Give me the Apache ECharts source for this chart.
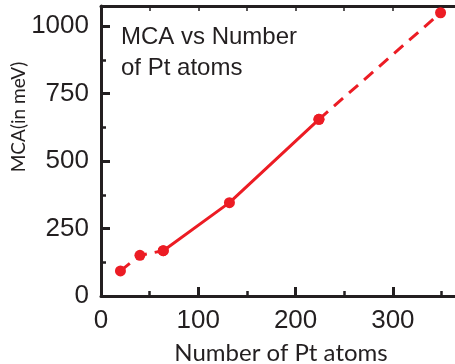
<!DOCTYPE html>
<html>
<head>
<meta charset="utf-8">
<script src="https://cdn.jsdelivr.net/npm/echarts@6/dist/echarts.min.js"></script>
<style>
  html, body { margin: 0; padding: 0; background: #fff; }
  #chart { width: 455px; height: 364px; }
</style>
</head>
<body>
<div id="chart"></div>
<script>
// Cluster size (number of Pt atoms) and magnetocrystalline anisotropy in meV
const atoms = [20, 40, 64, 132, 224, 349];
const mca   = [93, 151, 168, 346, 655, 1050];

// Segments: dashed at small sizes, solid in the middle, dashed extrapolation at the end
const dashedLow  = [0, 1, 2];
const solidMid   = [2, 3, 4];
const dashedHigh = [4, 5];

const xTicks = [0, 100, 200, 300];
const yTicks = [0, 250, 500, 750, 1000];

const RED = '#ec1c24';
const INK = '#231f20';
const NUM_FONT = 'Liberation Sans';
const NAME_FONT = 'Lato';

const pts = idx => idx.map(i => [atoms[i], mca[i]]);

const lineSeries = (idx, dashed) => ({
  type: 'line',
  data: pts(idx),
  symbol: 'circle',
  symbolSize: 11,
  itemStyle: { color: RED },
  lineStyle: { color: RED, width: 3, type: dashed ? [12, 8] : 'solid' },
  z: 5,
  animation: false
});

const X_MIN = 0, X_MAX = 370, Y_MIN = 0, Y_MAX = 1075;

const chart = echarts.init(document.getElementById('chart'), null, { renderer: 'canvas' });
chart.setOption({
  backgroundColor: '#fff',
  animation: false,
  title: {
    text: 'MCA vs Number\nof Pt atoms',
    left: 116,
    top: 17,
    textStyle: { fontFamily: NUM_FONT, fontSize: 24, fontWeight: 'normal', color: INK, lineHeight: 31 }
  },
  grid: { left: 101, top: 6, right: -6, bottom: 68, containLabel: false, outerBoundsMode: 'none' },
  xAxis: [
    {
      type: 'value', position: 'bottom', min: X_MIN, max: X_MAX, interval: 100,
      name: 'Number of Pt atoms', nameLocation: 'middle', nameGap: 45, nameMoveOverlap: false,
      nameTextStyle: { fontFamily: NAME_FONT, fontSize: 24, color: INK },
      axisLine: { show: true, lineStyle: { color: INK, width: 3 } },
      axisTick: { show: true, inside: true, length: 9, lineStyle: { color: INK, width: 3 } },
      axisLabel: {
        fontFamily: NUM_FONT, fontSize: 26, color: INK, margin: 12,
        formatter: v => (xTicks.includes(v) ? String(v) : '')
      },
      splitLine: { show: false }
    },
    {
      type: 'value', position: 'bottom', min: X_MIN, max: X_MAX, interval: 50,
      axisLine: { show: false },
      axisTick: { show: true, inside: true, length: 5, lineStyle: { color: INK, width: 2.5 } },
      axisLabel: { show: false },
      splitLine: { show: false }
    },
    {
      type: 'value', position: 'top', min: X_MIN, max: X_MAX, interval: 50,
      axisLine: { show: true, lineStyle: { color: INK, width: 3 } },
      axisTick: { show: true, inside: true, length: 5, lineStyle: { color: INK, width: 1.5 } },
      axisLabel: { show: false },
      splitLine: { show: false }
    }
  ],
  yAxis: [
    {
      type: 'value', position: 'left', min: Y_MIN, max: Y_MAX, interval: 250,
      name: 'MCA(in meV)', nameLocation: 'middle', nameGap: 73, nameRotate: 90, nameMoveOverlap: false,
      nameTextStyle: { fontFamily: NAME_FONT, fontSize: 19, color: INK, padding: [0, 0, 0, 68] },
      axisLine: { show: true, lineStyle: { color: INK, width: 3 } },
      axisTick: { show: true, inside: true, length: 9, lineStyle: { color: INK, width: 3 } },
      axisLabel: {
        fontFamily: NUM_FONT, fontSize: 26, color: INK, margin: 12,
        formatter: v => (yTicks.includes(v) ? String(v) : '')
      },
      splitLine: { show: false }
    },
    {
      type: 'value', position: 'left', min: Y_MIN, max: Y_MAX, interval: 125,
      axisLine: { show: false },
      axisTick: { show: true, inside: true, length: 5, lineStyle: { color: INK, width: 2.5 } },
      axisLabel: { show: false },
      splitLine: { show: false }
    }
  ],
  series: [
    lineSeries(dashedLow, true),
    lineSeries(solidMid, false),
    lineSeries(dashedHigh, true)
  ]
});
</script>
</body>
</html>
